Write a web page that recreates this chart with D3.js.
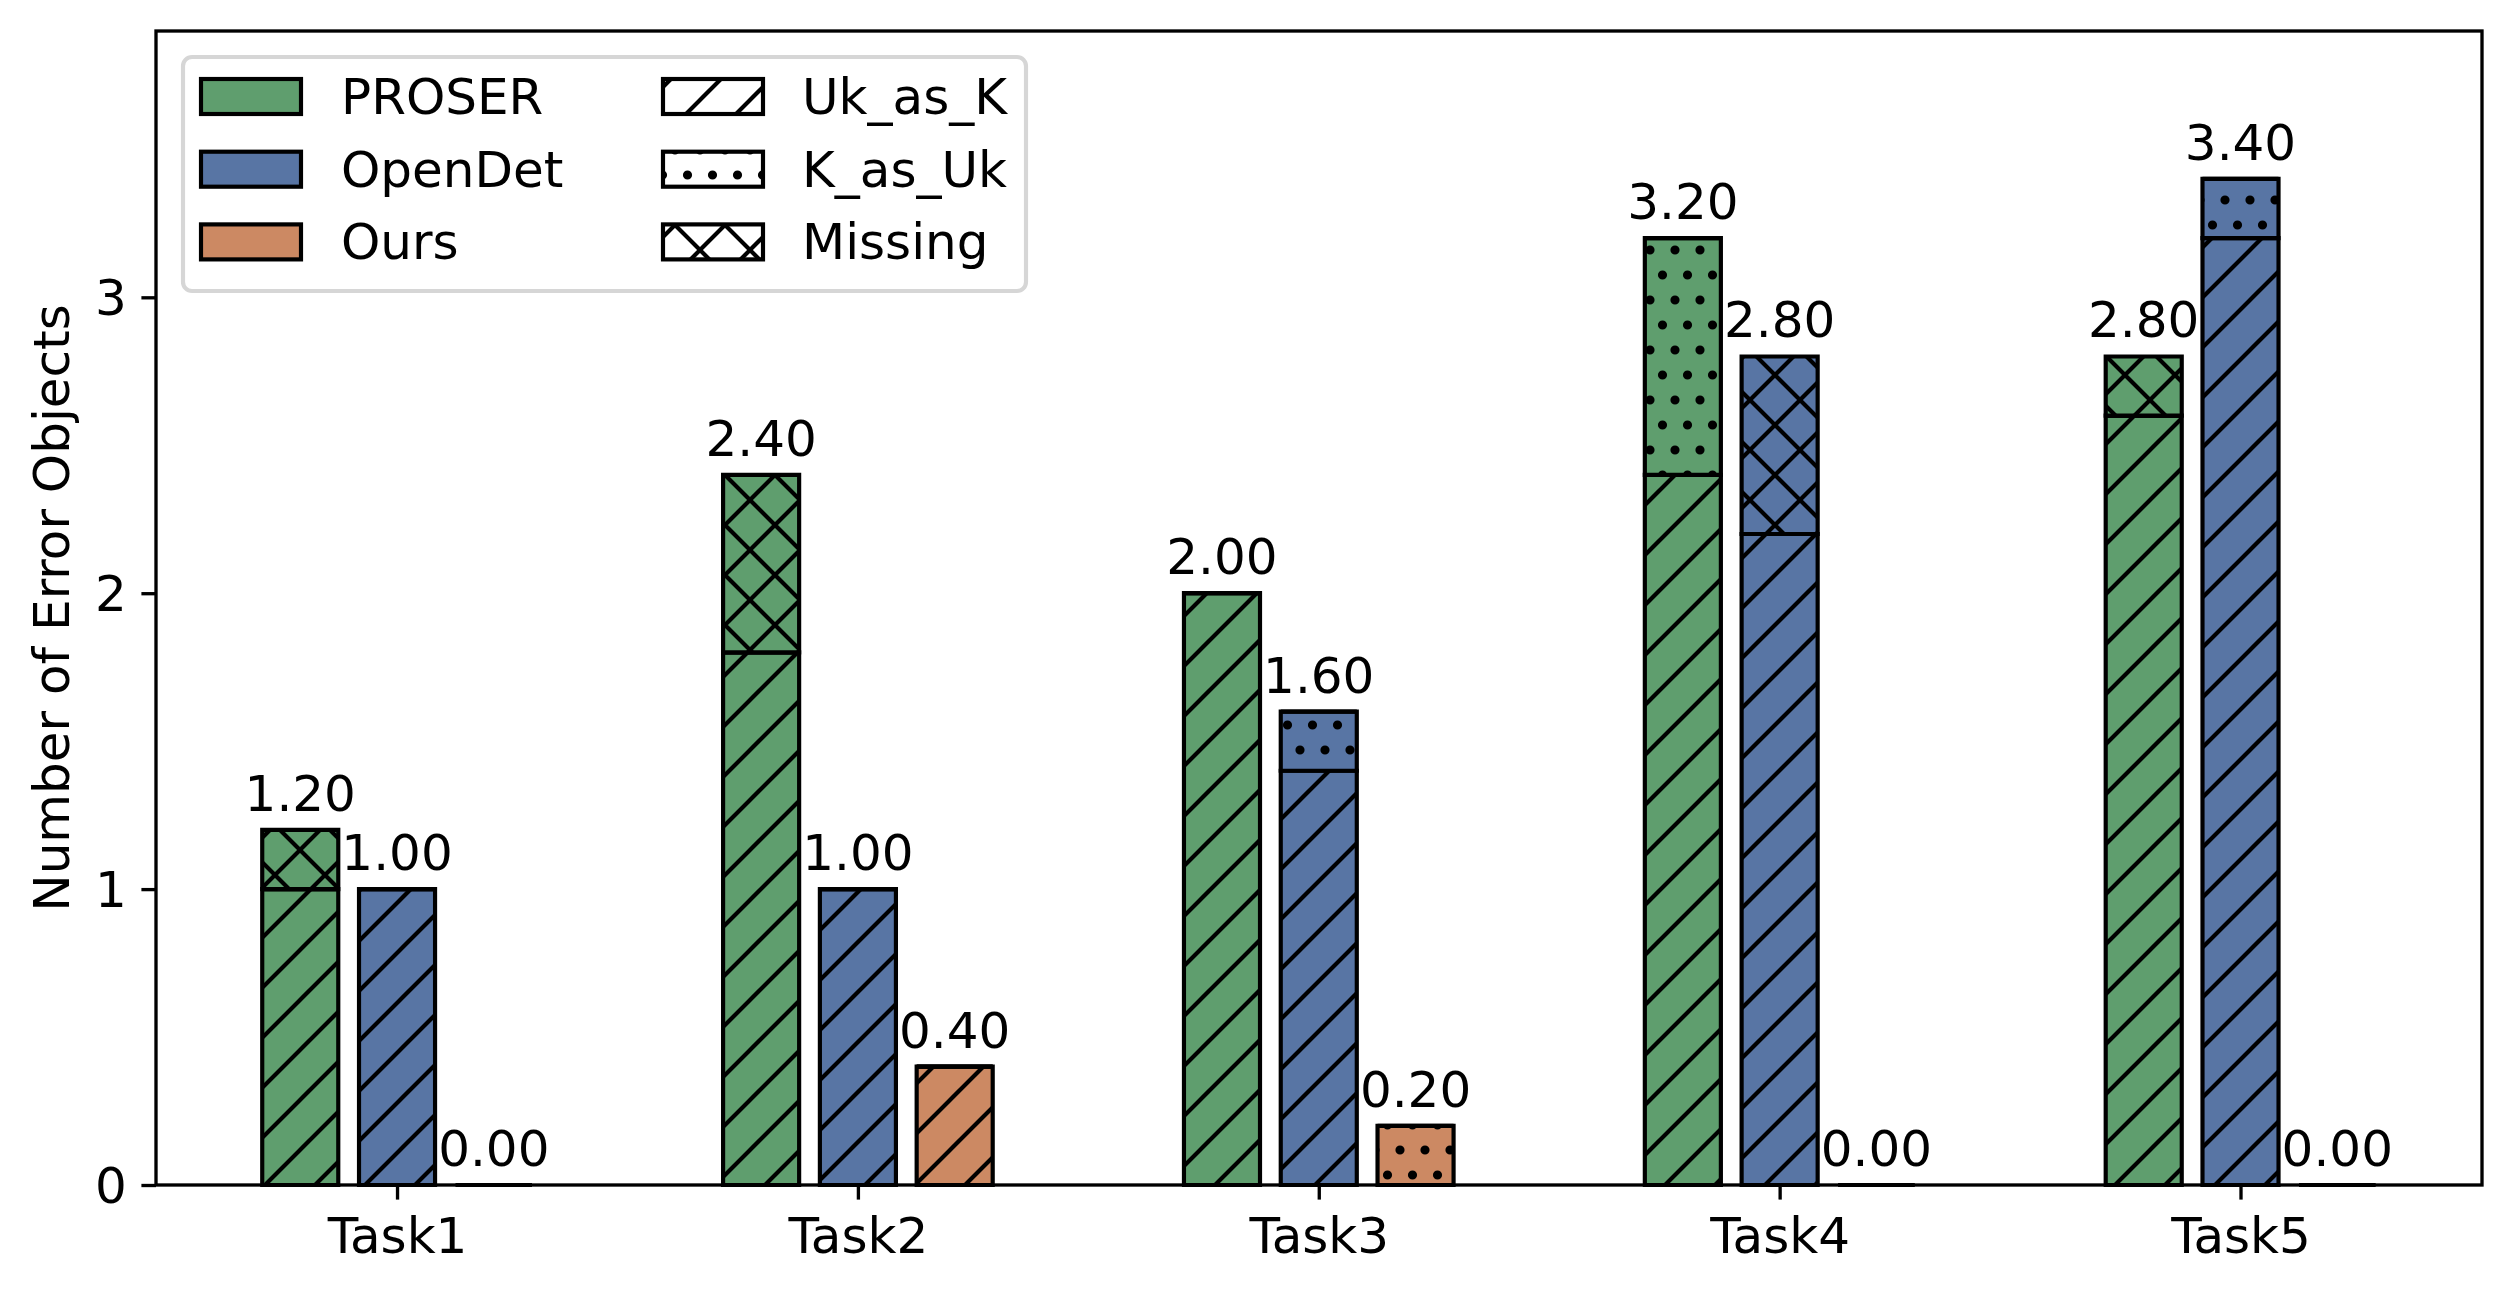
<!DOCTYPE html>
<meta charset="utf-8">
<script src="https://d3js.org/d3.v7.min.js"></script>
<style>
  body { margin: 0; background: #fff; }
  text { font-family: "DejaVu Sans", sans-serif; fill: #000; }
</style>
<div id="chart"></div>
<script>

// ---- data ----
var tasks = ["Task1", "Task2", "Task3", "Task4", "Task5"];
var methods = ["PROSER", "OpenDet", "Ours"];
var errorTypes = ["Uk_as_K", "K_as_Uk", "Missing"];

// stacked parts per method, one value per task
var proserUkAsK  = [1.0, 1.8, 2.0, 2.4, 2.6];
var proserKAsUk  = [0.0, 0.0, 0.0, 0.8, 0.0];
var proserMiss   = [0.2, 0.6, 0.0, 0.0, 0.2];

var opendetUkAsK = [1.0, 1.0, 1.4, 2.2, 3.2];
var opendetKAsUk = [0.0, 0.0, 0.2, 0.0, 0.2];
var opendetMiss  = [0.0, 0.0, 0.0, 0.6, 0.0];

var oursUkAsK    = [0.0, 0.4, 0.0, 0.0, 0.0];
var oursKAsUk    = [0.0, 0.0, 0.2, 0.0, 0.0];
var oursMiss     = [0.0, 0.0, 0.0, 0.0, 0.0];

var yTicks = [0, 1, 2, 3];

var parts = {
  "PROSER":  [proserUkAsK, proserKAsUk, proserMiss],
  "OpenDet": [opendetUkAsK, opendetKAsUk, opendetMiss],
  "Ours":    [oursUkAsK, oursKAsUk, oursMiss]
};

// ---- layout ----
var W = 2510, H = 1292;
var axL = 156, axR = 2482, axT = 31, axB = 1185;
var barW = 0.165, offset = 0.21;
var lw = 4.17;   // 1pt at 300dpi
var spineW = 3.33;
var fs = 50;

var colors = { "PROSER": "#5f9e6e", "OpenDet": "#5875a4", "Ours": "#cc8963" };
var hatchIds = { "Uk_as_K": "h-slash", "K_as_Uk": "h-dots", "Missing": "h-cross" };

var svg = d3.select("#chart").append("svg")
  .attr("width", W).attr("height", H);

svg.append("rect").attr("width", W).attr("height", H).attr("fill", "#fff");

// hatch patterns
var defs = svg.append("defs");

var pSlash = defs.append("pattern").attr("id", "h-slash")
  .attr("patternUnits", "userSpaceOnUse").attr("width", 50).attr("height", 50);
pSlash.append("path")
  .attr("d", "M-5,5L5,-5M0,50L50,0M45,55L55,45")
  .attr("stroke", "#000").attr("stroke-width", lw).attr("fill", "none");

var pCross = defs.append("pattern").attr("id", "h-cross")
  .attr("patternUnits", "userSpaceOnUse").attr("width", 50).attr("height", 50);
pCross.append("path")
  .attr("d", "M-5,5L5,-5M0,50L50,0M45,55L55,45M-5,-5L55,55M-5,45L5,55M45,-5L55,5")
  .attr("stroke", "#000").attr("stroke-width", lw).attr("fill", "none");

var pDots = defs.append("pattern").attr("id", "h-dots")
  .attr("patternUnits", "userSpaceOnUse").attr("width", 25).attr("height", 50);
[[0, 0], [25, 0], [0, 50], [25, 50], [12.5, 25]].forEach(function(c) {
  pDots.append("circle").attr("cx", c[0]).attr("cy", c[1]).attr("r", 2.5)
    .attr("fill", "#000").attr("stroke", "#000").attr("stroke-width", lw);
});

// scales
var x = d3.scaleLinear().domain([-0.523, 4.524]).range([axL, axR]);
var y = d3.scaleLinear().domain([0, 3.9]).range([axB, axT]);

function rectPath(x0, x1, y0, y1) {
  return "M" + x0 + "," + y0 + "H" + x1 + "V" + y1 + "H" + x0 + "Z";
}

// bars
var barsG = svg.append("g");
methods.forEach(function(m, j) {
  var off = (j - 1) * offset;
  tasks.forEach(function(t, i) {
    var base = 0;
    var x0 = x(i + off - barW / 2), x1 = x(i + off + barW / 2);
    errorTypes.forEach(function(e, k) {
      var v = parts[m][k][i];
      var d = rectPath(x0, x1, y(base), y(base + v));
      barsG.append("path").attr("d", d).attr("fill", colors[m]);
      barsG.append("path").attr("d", d).attr("fill", "url(#" + hatchIds[e] + ")");
      barsG.append("path").attr("d", d).attr("fill", "none")
        .attr("stroke", "#000").attr("stroke-width", lw);
      base += v;
    });
  });
});

// axes
var xAxis = svg.append("g")
  .attr("transform", "translate(0," + axB + ")")
  .call(d3.axisBottom(x).tickValues(d3.range(tasks.length))
    .tickFormat(function(d) { return tasks[d]; })
    .tickSize(14.6).tickPadding(14.6).tickSizeOuter(0));
var yAxis = svg.append("g")
  .attr("transform", "translate(" + axL + ",0)")
  .call(d3.axisLeft(y).tickValues(yTicks).tickFormat(d3.format("d"))
    .tickSize(14.6).tickPadding(14.6).tickSizeOuter(0));

[xAxis, yAxis].forEach(function(a) {
  a.select(".domain").remove();
  a.selectAll(".tick line").attr("stroke", "#000").attr("stroke-width", spineW);
  a.selectAll(".tick text").attr("font-size", fs).attr("fill", "#000")
    .style("font-family", "DejaVu Sans");
});
xAxis.selectAll(".tick text").attr("dy", null).attr("y", 1253 - axB);
yAxis.selectAll(".tick text").attr("dy", "0.35em");

// frame
svg.append("rect")
  .attr("x", axL).attr("y", axT)
  .attr("width", axR - axL).attr("height", axB - axT)
  .attr("fill", "none").attr("stroke", "#000").attr("stroke-width", spineW);

// value labels
methods.forEach(function(m, j) {
  var off = (j - 1) * offset;
  tasks.forEach(function(t, i) {
    var total = parts[m][0][i] + parts[m][1][i] + parts[m][2][i];
    svg.append("text")
      .attr("x", x(i + off)).attr("y", y(total) - 19)
      .attr("text-anchor", "middle").attr("font-size", fs)
      .text(total.toFixed(2));
  });
});

// y label
svg.append("text")
  .attr("transform", "translate(69," + ((axT + axB) / 2) + ") rotate(-90)")
  .attr("text-anchor", "middle").attr("font-size", fs)
  .text("Number of Error Objects");

// legend
var lg = svg.append("g");
lg.append("rect")
  .attr("x", 183).attr("y", 57).attr("width", 843).attr("height", 234)
  .attr("rx", 9).attr("fill", "#fff").attr("stroke", "#d6d6d6").attr("stroke-width", lw);

var rowY = [79, 151.7, 224.4];
methods.forEach(function(m, i) {
  lg.append("rect").attr("x", 201).attr("y", rowY[i]).attr("width", 100).attr("height", 35)
    .attr("fill", colors[m]).attr("stroke", "#000").attr("stroke-width", lw);
  lg.append("text").attr("x", 341).attr("y", rowY[i] + 35).attr("font-size", fs).text(m);
});
errorTypes.forEach(function(e, i) {
  lg.append("rect").attr("x", 663).attr("y", rowY[i]).attr("width", 100).attr("height", 35)
    .attr("fill", "#fff");
  lg.append("rect").attr("x", 663).attr("y", rowY[i]).attr("width", 100).attr("height", 35)
    .attr("fill", "url(#" + hatchIds[e] + ")").attr("stroke", "#000").attr("stroke-width", lw);
  lg.append("text").attr("x", 802).attr("y", rowY[i] + 35).attr("font-size", fs).text(e);
});

</script>
